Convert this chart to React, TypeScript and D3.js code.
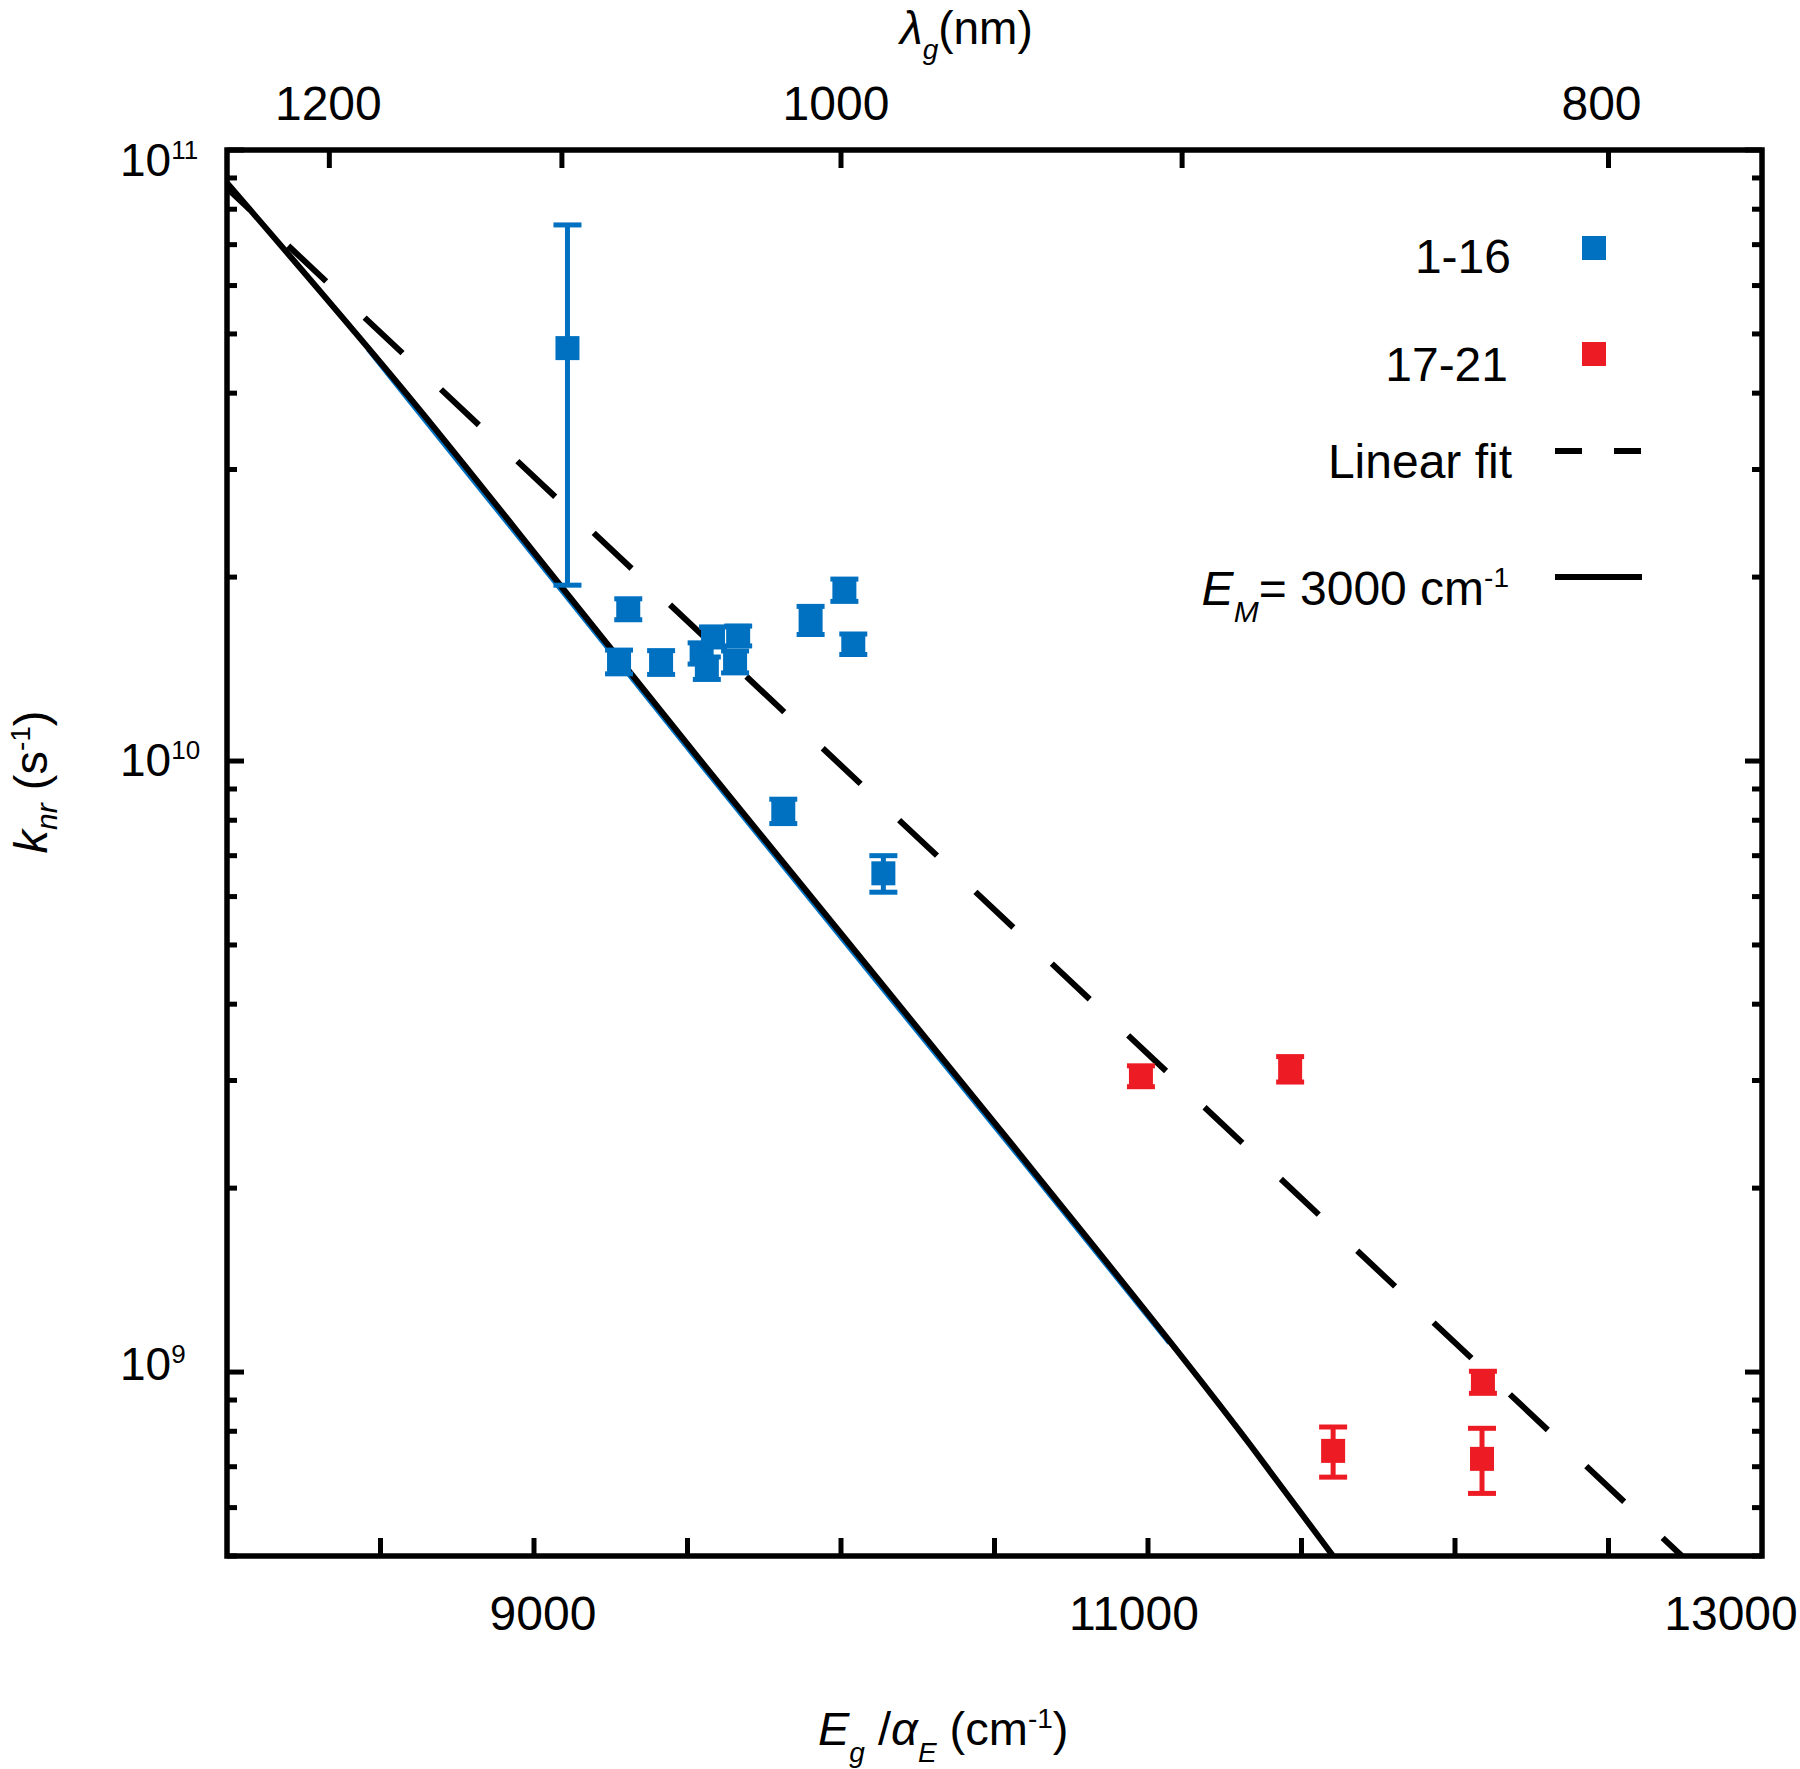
import React from "react";
import * as d3 from "d3";

// ---------- data ----------
// series 1-16 (blue): x = Eg/alphaE (cm-1), k = knr (s-1), err = +/- (s-1)
const blueE = [9109, 9307, 9277, 9414, 9546, 9563, 9583, 9665, 9655, 9901, 10011, 10040, 9812, 10138];
const blueK = [4.74e10, 1.773e10, 1.454e10, 1.451e10, 1.501e10, 1.42e10, 1.597e10, 1.603e10, 1.454e10, 1.701e10, 1.905e10, 1.554e10, 8.28e9, 6.55e9];
const blueErr = [2.8e10, 0.07e10, 0.065e10, 0.065e10, 0.06e10, 0.06e10, 0.06e10, 0.06e10, 0.06e10, 0.09e10, 0.08e10, 0.06e10, 0.38e9, 0.45e9];

// series 17-21 (red)
const redE = [10977, 11463, 11603, 12091, 12088];
const redK = [3.051e9, 3.133e9, 7.43e8, 9.63e8, 7.21e8];
const redErr = [0.12e9, 0.15e9, 0.7e8, 0.4e8, 0.88e8];

// model curve E_M = 3000 cm-1
const emCurve: [number, number][] = [
  [8000, 8.83e10],
  [8601, 3.9e10],
  [9101, 1.897e10],
  [9541, 1.004e10],
  [10572, 2.308e9],
  [11332, 7.61e8],
  [11603, 5.0e8],
];
// blue curve peeking out under the black model curve
const blueCurve: [number, number][] = [
  [8460, 4.72e10],
  [8592, 3.9e10],
  [9092, 1.897e10],
  [9532, 1.004e10],
  [10563, 2.308e9],
  [11070, 1.116e9],
];
// linear fit (straight in log space)
const linearFit: [number, number][] = [
  [8000, 8.66e10],
  [12739, 5.0e8],
];

// axis ticks
const bottomMinorTicks = [8500, 9000, 9500, 10000, 10500, 11000, 11500, 12000, 12500];
const bottomLabels = [9000, 11000, 13000];
const bottomLabelDx = [9, -14, -31];
const topTicksNm = [1200, 1100, 1000, 900, 800];
const topLabels = [1200, 1000, 800];
const topLabelDx = [-1, -5, -7];
const yMajorLabels = [
  { v: 1e11, exp: "11" },
  { v: 1e10, exp: "10" },
  { v: 1e9, exp: "9" },
];

const BLUE = "#0070C0";
const RED = "#ED1C24";
const FONT = "'Liberation Sans', Arial, Helvetica, sans-serif";

const L = 227, R = 1762, T = 150, B = 1556;

export default function App() {
  const x = d3.scaleLinear().domain([8000, 13000]).range([L, R]);
  const y = d3.scaleLog().domain([5e8, 1e11]).range([B, T]);

  const line = d3
    .line<[number, number]>()
    .x((d) => x(d[0]))
    .y((d) => y(d[1]))
    .curve(d3.curveMonotoneX);
  const straight = d3
    .line<[number, number]>()
    .x((d) => x(d[0]))
    .y((d) => y(d[1]));

  const yTicks = y.ticks();
  const isMajor = (v: number) => Math.abs(Math.log10(v) - Math.round(Math.log10(v))) < 1e-9;

  const renderPoints = (E: number[], K: number[], Er: number[], color: string) =>
    E.map((e, i) => {
      const cx = x(e);
      const cy = y(K[i]);
      const y1 = y(K[i] + Er[i]);
      const y2 = y(K[i] - Er[i]);
      return (
        <g key={i}>
          <line x1={cx} x2={cx} y1={y1} y2={y2} stroke={color} strokeWidth={5} />
          <line x1={cx - 14} x2={cx + 14} y1={y1} y2={y1} stroke={color} strokeWidth={5} />
          <line x1={cx - 14} x2={cx + 14} y1={y2} y2={y2} stroke={color} strokeWidth={5} />
          <rect x={cx - 12} y={cy - 12} width={24} height={24} fill={color} />
        </g>
      );
    });

  return (
    <svg
      width={1800}
      height={1769}
      style={{ position: "absolute", left: 0, top: 0, background: "#fff" }}
      fontFamily={FONT}
    >
      <defs>
        <clipPath id="plotClip">
          <rect x={L} y={T} width={R - L} height={B - T} />
        </clipPath>
      </defs>
      <rect x={0} y={0} width={1800} height={1769} fill="#fff" />

      {/* curves */}
      <g clipPath="url(#plotClip)" fill="none">
        <path d={line(blueCurve) || ""} stroke={BLUE} strokeWidth={5} />
        <path d={line(emCurve) || ""} stroke="#000" strokeWidth={6} />
        <path
          d={straight(linearFit) || ""}
          stroke="#000"
          strokeWidth={6}
          strokeDasharray="52 52.8"
          strokeDashoffset={20.7}
        />
      </g>

      {/* data */}
      {renderPoints(blueE, blueK, blueErr, BLUE)}
      {renderPoints(redE, redK, redErr, RED)}

      {/* frame */}
      <rect x={L} y={T} width={R - L} height={B - T} fill="none" stroke="#000" strokeWidth={5.5} />

      {/* bottom ticks */}
      {bottomMinorTicks.map((v) => (
        <line key={"b" + v} x1={x(v)} x2={x(v)} y1={B} y2={B - 18} stroke="#000" strokeWidth={5} />
      ))}
      {bottomLabels.map((v, i) => (
        <text key={"bl" + v} x={x(v) + bottomLabelDx[i]} y={1630} fontSize={48} textAnchor="middle">
          {v}
        </text>
      ))}

      {/* top ticks (wavelength) */}
      {topTicksNm.map((nm) => (
        <line key={"t" + nm} x1={x(1e7 / nm)} x2={x(1e7 / nm)} y1={T} y2={T + 18} stroke="#000" strokeWidth={5} />
      ))}
      {topLabels.map((nm, i) => (
        <text key={"tl" + nm} x={x(1e7 / nm) + topLabelDx[i]} y={120} fontSize={48} textAnchor="middle">
          {nm}
        </text>
      ))}

      {/* y ticks left and right */}
      {yTicks.map((v, i) => {
        const len = isMajor(v) ? 17 : 10;
        return (
          <g key={"y" + i}>
            <line x1={L} x2={L + len} y1={y(v)} y2={y(v)} stroke="#000" strokeWidth={5} />
            <line x1={R} x2={R - len} y1={y(v)} y2={y(v)} stroke="#000" strokeWidth={5} />
          </g>
        );
      })}
      {yMajorLabels.map((d) => {
        const yy = y(d.v);
        const base = d.v === 1e11 ? yy + 26 : d.v === 1e9 ? yy + 8 : yy + 15;
        return (
          <text key={"yl" + d.exp} x={120} y={base} fontSize={46}>
            10
            <tspan fontSize={26} dy={-17}>
              {d.exp}
            </tspan>
          </text>
        );
      })}

      {/* axis titles */}
      <text x={900} y={44} fontSize={46}>
        <tspan fontStyle="italic">λ</tspan>
        <tspan fontStyle="italic" fontSize={28} dy={15}>
          g
        </tspan>
        <tspan dy={-15}>(nm)</tspan>
      </text>

      <text x={818} y={1745} fontSize={47}>
        <tspan fontStyle="italic">E</tspan>
        <tspan fontStyle="italic" fontSize={28} dy={17}>
          g
        </tspan>
        <tspan dy={-17}> /</tspan>
        <tspan fontStyle="italic">α</tspan>
        <tspan fontStyle="italic" fontSize={28} dy={17}>
          E
        </tspan>
        <tspan dy={-17}> (cm</tspan>
        <tspan fontSize={28} dy={-17}>
          -1
        </tspan>
        <tspan dy={17}>)</tspan>
      </text>

      <text transform="translate(47,782) rotate(-90)" fontSize={47} textAnchor="middle">
        <tspan fontStyle="italic">k</tspan>
        <tspan fontStyle="italic" fontSize={30} dy={10}>
          nr
        </tspan>
        <tspan dy={-10}> (s</tspan>
        <tspan fontSize={28} dy={-17}>
          -1
        </tspan>
        <tspan dy={17}>)</tspan>
      </text>

      {/* legend */}
      <text x={1511} y={273} fontSize={48} textAnchor="end">1-16</text>
      <rect x={1582} y={236} width={24} height={24} fill={BLUE} />
      <text x={1508} y={381} fontSize={48} textAnchor="end">17-21</text>
      <rect x={1582} y={342} width={24} height={24} fill={RED} />
      <text x={1512} y={478} fontSize={48} textAnchor="end">Linear fit</text>
      <line x1={1555} x2={1642} y1={451} y2={451} stroke="#000" strokeWidth={6} strokeDasharray="27 32" />
      <text x={1509} y={605} fontSize={48} textAnchor="end">
        <tspan fontStyle="italic">E</tspan>
        <tspan fontStyle="italic" fontSize={30} dy={17}>
          M
        </tspan>
        <tspan dy={-17}>= 3000 cm</tspan>
        <tspan fontSize={28} dy={-18}>
          -1
        </tspan>
      </text>
      <line x1={1555} x2={1642} y1={577} y2={577} stroke="#000" strokeWidth={6} />
    </svg>
  );
}
